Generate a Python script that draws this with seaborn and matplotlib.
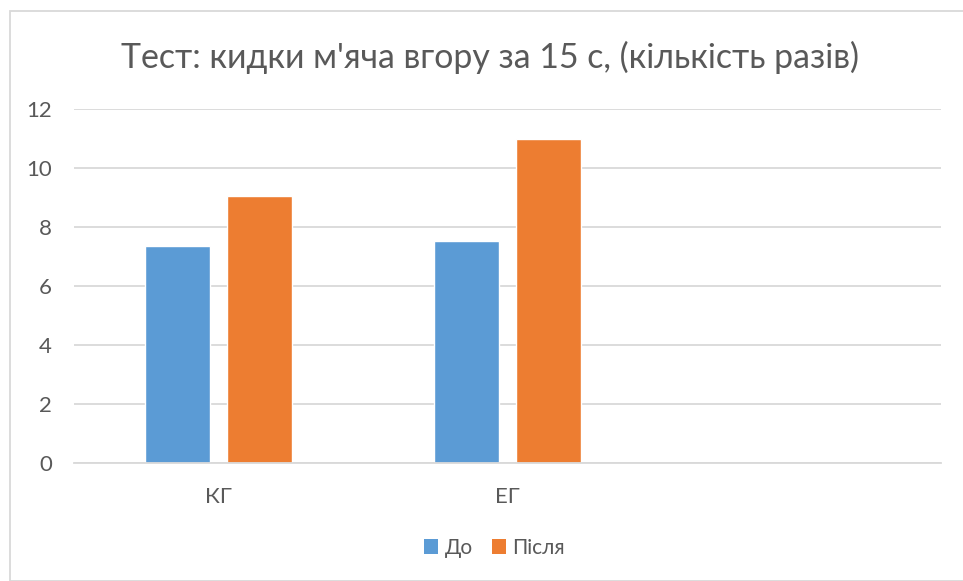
import matplotlib
matplotlib.use("Agg")
import matplotlib.pyplot as plt
import seaborn as sns
import pandas as pd
from matplotlib.patches import Rectangle, Patch

categories = ["КГ", "ЕГ"]
series_names = ["До", "Після"]
values_do = [7.35, 7.52]
values_pislia = [9.05, 11.0]
y_ticks = [0, 2, 4, 6, 8, 10, 12]
title = "Тест: кидки м'яча вгору за 15 с, (кількість разів)"

colors = ["#5B9BD5", "#ED7D31"]
text_color = "#595959"
grid_color = "#D9D9D9"

sns.set_theme(style="white")
plt.rcParams['font.family'] = ['Lato', 'DejaVu Sans']

df = pd.DataFrame({
    "cat": categories * 2,
    "series": [series_names[0]] * len(categories) + [series_names[1]] * len(categories),
    "value": values_do + values_pislia,
})

fig = plt.figure(figsize=(9.63, 5.81), dpi=100)
ax = fig.add_axes([74 / 963, 1 - 463 / 581, (940.7 - 74) / 963, (463 - 109.3) / 581])

sns.barplot(data=df, x="cat", y="value", hue="series", order=categories,
            hue_order=series_names, palette=colors, width=0.568, gap=0.207,
            saturation=1, ax=ax, legend=False)

ax.set_xlim(-0.5, 2.5)
ax.set_ylim(0, 12)
ax.set_yticks(y_ticks)
ax.set_yticklabels([str(t) for t in y_ticks])
ax.set_xlabel("")
ax.set_ylabel("")
ax.yaxis.grid(True, color=grid_color, linewidth=1.3)
ax.set_axisbelow(True)
for s in ["top", "right", "left"]:
    ax.spines[s].set_visible(False)
ax.spines["bottom"].set_color(grid_color)
ax.spines["bottom"].set_linewidth(1.3)
ax.tick_params(axis="y", length=0, pad=16, labelsize=16, labelcolor=text_color)
ax.tick_params(axis="x", length=0, pad=17, labelsize=16, labelcolor=text_color)

fig.text(489.5 / 963, 1 - 57 / 581, title, ha="center", va="center",
         fontsize=24.4, color=text_color)

handles = [Patch(facecolor=c, edgecolor="none") for c in colors]
fig.legend(handles, series_names, loc="center", bbox_to_anchor=(494.5 / 963, 1 - 548 / 581),
           ncol=2, frameon=False, fontsize=15, labelcolor=text_color,
           handlelength=0.7, handleheight=0.7, handletextpad=0.3, columnspacing=0.9)

fig.patches.append(Rectangle((9.5 / 963, 0), 1, 1 - 10.5 / 581, transform=fig.transFigure,
                             fill=False, edgecolor="#D9D9D9", linewidth=1.3, zorder=-1))

fig.savefig("out.png", dpi=100)
